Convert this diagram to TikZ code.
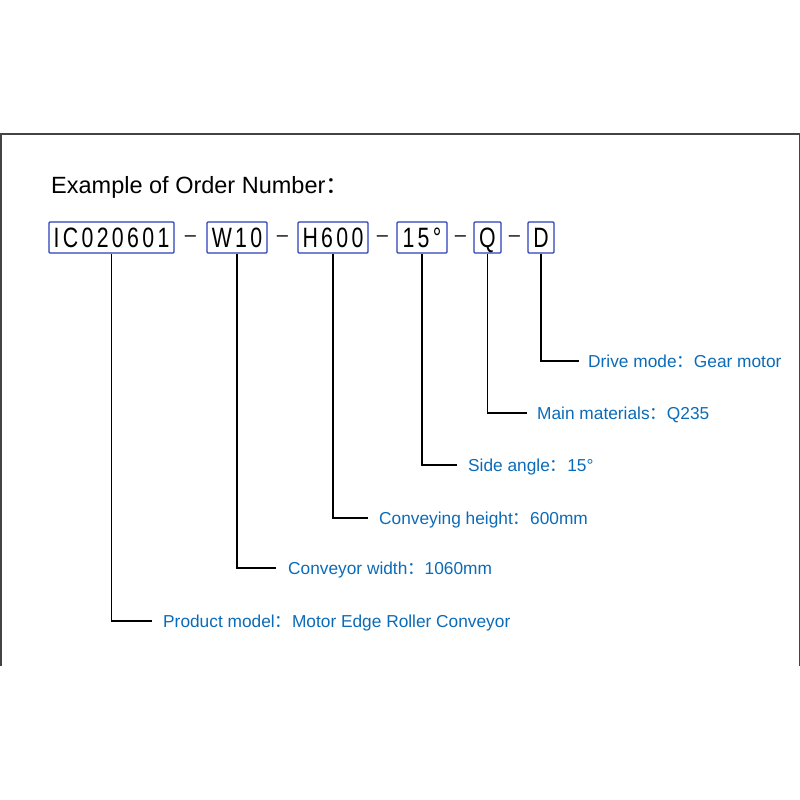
\documentclass[tikz,border=0pt]{standalone}
\usepackage{fontspec}
\setmainfont{Liberation Sans}
\newfontfamily\cjk{Noto Sans CJK SC}
\newfontfamily\codefont[FakeStretch=0.76,LetterSpace=12]{Liberation Sans}
\definecolor{boxblue}{HTML}{2A3FB8}
\definecolor{labelblue}{HTML}{0B6BB8}
\definecolor{framegray}{HTML}{444444}
\tikzset{
  codebox/.style={draw=boxblue, line width=1.2pt, rounded corners=1pt, minimum height=31pt,
    inner sep=0pt, text height=20pt, text depth=0pt, font=\codefont\fontsize{28}{28}\selectfont},
  sep/.style={inner sep=0pt, font=\fontsize{20}{20}\selectfont},
  desc/.style={anchor=west, inner sep=0pt, text height=12pt, text depth=0pt,
    text=labelblue, font=\fontsize{17.3}{18}\selectfont},
  lead/.style={line width=1.5pt},
}
\begin{document}
\begin{tikzpicture}[x=1pt,y=-1pt]
  \useasboundingbox (0,0) rectangle (800,800);
  % frame, open at the bottom
  \draw[framegray, line width=1.5pt] (0.75,666) -- (0.75,134) -- (799.25,134) -- (799.25,666);
  \node[anchor=base west, inner sep=0pt, font=\fontsize{23.5}{24}\selectfont] (title) at (51,193) {Example of Order Number{\cjk ：}};
  % order number
  \node[codebox, minimum width=125pt] (ic) at (111.5,237.5) {IC020601};
  \node[codebox, minimum width=60pt] (w) at (237,237.5) {W10};
  \node[codebox, minimum width=70pt] (h) at (333,237.5) {H600};
  \node[codebox, minimum width=50pt] (ang) at (422,237.5) {15°};
  \node[codebox, minimum width=27pt] (q) at (487.5,237.5) {Q};
  \node[codebox, minimum width=26pt] (d) at (541,237.5) {D};
  \node[sep] (s1) at (190.5,239) {–};
  \node[sep] (s2) at (282.5,239) {–};
  \node[sep] (s3) at (382.5,239) {–};
  \node[sep] (s4) at (460.5,239) {–};
  \node[sep] (s5) at (514.5,239) {–};
  % meanings
  \node[desc] (drive) at (588,361) {Drive mode{\cjk ：}Gear motor};
  \node[desc] (mat) at (537,413) {Main materials{\cjk ：}Q235};
  \node[desc] (side) at (468,465) {Side angle{\cjk ：}15°};
  \node[desc] (height) at (379,518) {Conveying height{\cjk ：}600mm};
  \node[desc] (width) at (288,568) {Conveyor width{\cjk ：}1060mm};
  \node[desc] (model) at (163,621) {Product model{\cjk ：}Motor Edge Roller Conveyor};
  \draw[lead] (d.south) |- ([xshift=-9pt]drive.west);
  \draw[lead] (q.south) |- ([xshift=-10pt]mat.west);
  \draw[lead] (ang.south) |- ([xshift=-11pt]side.west);
  \draw[lead] (h.south) |- ([xshift=-11pt]height.west);
  \draw[lead] (w.south) |- ([xshift=-12pt]width.west);
  \draw[lead] (ic.south) |- ([xshift=-11pt]model.west);
\end{tikzpicture}
\end{document}
